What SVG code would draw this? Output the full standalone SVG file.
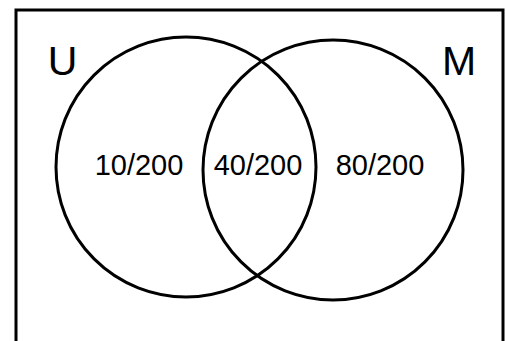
<svg xmlns="http://www.w3.org/2000/svg" width="506" height="341" viewBox="0 0 506 341">
<style>
.s{fill:none;stroke:#000;stroke-width:3}
.t{font-family:"Liberation Sans",Arial,sans-serif;fill:#000;text-anchor:middle}
.big{font-size:41px}
.num{font-size:29px}
</style>
<rect width="506" height="341" fill="#fff"/>
<g id="universe">
<rect class="s" x="16" y="10" width="487" height="345"/>
</g>
<g id="setU">
<circle class="s" cx="186" cy="167" r="130"/>
<text class="t big" x="62.5" y="75">U</text>
</g>
<g id="setM">
<circle class="s" cx="333" cy="170" r="130"/>
<text class="t big" x="459" y="75">M</text>
</g>
<g id="labels">
<text class="t num" x="139" y="175">10/200</text>
<text class="t num" x="258" y="175">40/200</text>
<text class="t num" x="380" y="175">80/200</text>
</g>
<g id="connectors"/>
</svg>
